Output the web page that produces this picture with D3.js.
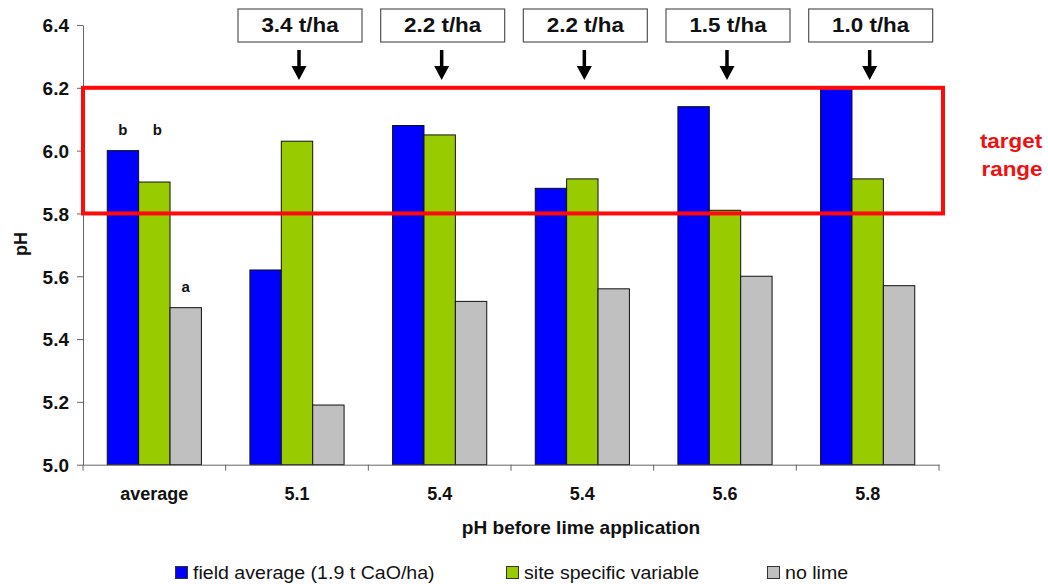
<!DOCTYPE html>
<html>
<head>
<meta charset="utf-8">
<script src="https://cdn.jsdelivr.net/npm/d3@7"></script>
<style>
  html, body { margin: 0; padding: 0; background: #fff; }
  svg { display: block; font-family: "Liberation Sans", Arial, sans-serif; }
</style>
</head>
<body>
<svg id="chart" width="1048" height="584"></svg>
<script>
// ---- data ----
const categories = ["average", "5.1", "5.4", "5.4", "5.6", "5.8"];
const seriesNames = ["field average (1.9 t CaO/ha)", "site specific variable", "no lime"];
const fieldAverage = [6.00, 5.62, 6.08, 5.88, 6.14, 6.20];
const siteSpecific = [5.90, 6.03, 6.05, 5.91, 5.81, 5.91];
const noLime       = [5.50, 5.19, 5.52, 5.56, 5.60, 5.57];
const yTicks = [5.0, 5.2, 5.4, 5.6, 5.8, 6.0, 6.2, 6.4];
const rates = ["3.4 t/ha", "2.2 t/ha", "2.2 t/ha", "1.5 t/ha", "1.0 t/ha"]; // for categories 1..5
const targetRange = [5.8, 6.2];
const sigLetters = ["b", "b", "a"];      // on the "average" group
const sigLevel = [6.0, 6.0, 5.5];         // pH level each letter sits above
const colors = ["#0000ff", "#99cc00", "#c0c0c0"];

// ---- layout ----
const svg = d3.select("#chart");
const X0 = 83, X1 = 939, Y0 = 464.7, Y1 = 25;
const FONT = "'Liberation Sans', Arial, sans-serif";

const x = d3.scaleBand().domain(d3.range(categories.length)).range([X0, X1]).padding(0);
const bw = x.bandwidth();
const xs = d3.scaleBand().domain(d3.range(3)).range([bw * 0.17, bw * 0.83]).padding(0);
const y = d3.scaleLinear().domain([5.0, 6.4]).range([Y0, Y1]);

const series = [fieldAverage, siteSpecific, noLime];

// ---- bars ----
const gBars = svg.append("g");
categories.forEach((c, i) => {
  series.forEach((s, k) => {
    gBars.append("rect")
      .attr("x", x(i) + xs(k))
      .attr("y", y(s[i]))
      .attr("width", xs.bandwidth())
      .attr("height", Y0 - y(s[i]))
      .attr("fill", colors[k])
      .attr("stroke", "#111")
      .attr("stroke-width", 1);
  });
});

// ---- y axis ----
const yAxis = svg.append("g")
  .attr("transform", `translate(${X0},0)`)
  .call(d3.axisLeft(y).tickValues(yTicks).tickFormat(d3.format(".1f")).tickSize(6).tickSizeOuter(0).tickPadding(8));
yAxis.select(".domain").attr("stroke", "#666");
yAxis.selectAll(".tick line").attr("stroke", "#666");
yAxis.selectAll(".tick text")
  .attr("font-family", FONT).attr("font-size", 19).attr("font-weight", "bold").attr("fill", "#111")
  .attr("dy", "0.36em");

// ---- x axis ----
const xAxis = svg.append("g")
  .attr("transform", `translate(0,${Y0})`)
  .call(d3.axisBottom(x).tickFormat(i => categories[i]).tickSize(0).tickSizeOuter(0).tickPadding(23));
xAxis.select(".domain").attr("stroke", "#666");
xAxis.selectAll(".tick text")
  .attr("font-family", FONT).attr("font-size", 18).attr("font-weight", "bold").attr("fill", "#111");
// boundary ticks
const bounds = d3.range(categories.length + 1).map(i => i < categories.length ? x(i) : X1);
xAxis.selectAll("line.bound").data(bounds).join("line")
  .attr("class", "bound")
  .attr("x1", d => d).attr("x2", d => d)
  .attr("y1", 0).attr("y2", 6)
  .attr("stroke", "#666");

// ---- target range box ----
svg.append("rect")
  .attr("x", X0)
  .attr("y", y(targetRange[1]))
  .attr("width", X1 + 4 - X0)
  .attr("height", y(targetRange[0]) - y(targetRange[1]))
  .attr("fill", "none")
  .attr("stroke", "#ff0a0a")
  .attr("stroke-width", 4);

const tr = svg.append("g").attr("fill", "#ee1111").attr("font-family", FONT)
  .attr("font-weight", "bold").attr("font-size", 20).attr("text-anchor", "middle");
tr.append("text").attr("transform", "translate(1011,148) scale(1.12,1)").text("target");
tr.append("text").attr("transform", "translate(1012,176) scale(1.12,1)").text("range");

// ---- significance letters ----
sigLetters.forEach((l, k) => {
  svg.append("text")
    .attr("x", x(0) + xs(k) + xs.bandwidth() / 2 + (k === 1 ? 3 : 0))
    .attr("y", y(sigLevel[k]) - 16)
    .attr("text-anchor", "middle")
    .attr("font-family", FONT).attr("font-weight", "bold").attr("font-size", 15)
    .attr("fill", "#111")
    .text(l);
});

// ---- rate boxes + arrows ----
rates.forEach((r, j) => {
  const i = j + 1;
  const cx = x(i) + bw / 2 + 3;
  const g = svg.append("g");
  g.append("rect")
    .attr("x", cx - 62).attr("y", 9).attr("width", 124).attr("height", 33)
    .attr("fill", "#fff").attr("stroke", "#555").attr("stroke-width", 1.2);
  g.append("text")
    .attr("transform", `translate(${cx},32) scale(1.15,1)`)
    .attr("text-anchor", "middle")
    .attr("font-family", FONT).attr("font-weight", "bold").attr("font-size", 19.5)
    .attr("fill", "#111")
    .text(r);
  g.append("line")
    .attr("x1", cx - 1).attr("x2", cx - 1).attr("y1", 50).attr("y2", 68)
    .attr("stroke", "#000").attr("stroke-width", 3.5);
  g.append("path")
    .attr("d", `M${cx - 8.5},66 L${cx + 6.5},66 L${cx - 1},80 Z`)
    .attr("fill", "#000");
});

// ---- axis titles ----
svg.append("text")
  .attr("transform", "translate(27,244) rotate(-90)")
  .attr("text-anchor", "middle")
  .attr("font-family", FONT).attr("font-weight", "bold").attr("font-size", 18)
  .attr("fill", "#111")
  .text("pH");
svg.append("text")
  .attr("transform", "translate(581,534) scale(1.09,1)")
  .attr("text-anchor", "middle")
  .attr("font-family", FONT).attr("font-weight", "bold").attr("font-size", 17.5)
  .attr("fill", "#111")
  .text("pH before lime application");

// ---- legend ----
const legX = [175, 506, 767];
seriesNames.forEach((n, k) => {
  const g = svg.append("g").attr("transform", `translate(${legX[k]},566)`);
  g.append("rect").attr("x", 0.5).attr("y", 0.5).attr("width", 12).attr("height", 12)
    .attr("fill", colors[k]).attr("stroke", "#333").attr("stroke-width", 1);
  g.append("text")
    .attr("transform", "translate(18,12.5) scale(1.12,1)")
    .attr("font-family", FONT).attr("font-size", 17.5)
    .attr("fill", "#111")
    .text(n);
});
</script>
</body>
</html>
